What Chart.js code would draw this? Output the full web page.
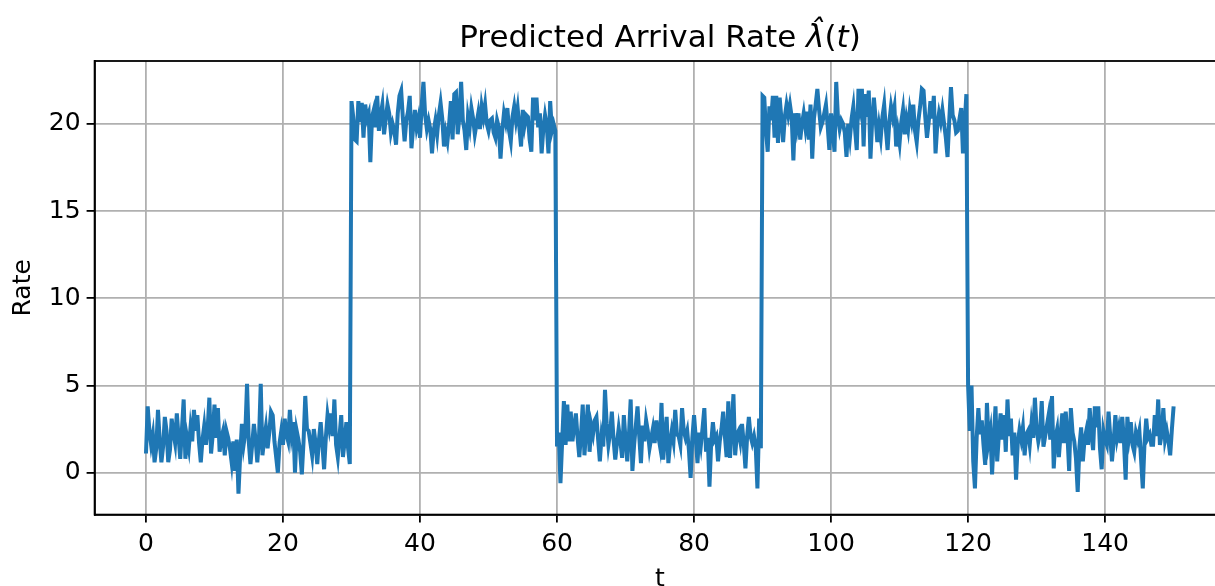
<!DOCTYPE html>
<html>
<head>
<meta charset="utf-8">
<script src="https://cdn.jsdelivr.net/npm/chart.js@4.4.1/dist/chart.umd.min.js"></script>
<style>
  html, body { margin: 0; padding: 0; background: #fff; overflow: hidden; }
  #wrap { position: relative; width: 1215px; height: 586px; overflow: hidden; }
  #title {
    position: absolute; left: 0; top: 18px; width: 1320px; text-align: center;
    font-family: "DejaVu Sans", sans-serif; font-size: 31px; line-height: 37px; color: #000;
  }
  #chart { position: absolute; left: 0; top: 0; }
</style>
</head>
<body>
<div id="wrap">
  <canvas id="chart" width="1240" height="594"></canvas>
  <div id="title">Predicted Arrival Rate <i>λ̂</i>(<i>t</i>)</div>
</div>
<script>
// sampling step of the series (t axis)
const DT = 0.25;

// rate, t = 0 .. 29.75
const rateSeg1 = [
  1.1, 3.8, 2.4, 1.6, 2.2, 0.6, 1.4, 3.6,
  1.9, 0.6, 1.5, 3.2, 2.4, 0.6, 1.3, 3.1,
  2.3, 1.7, 3.4, 2.1, 0.8, 2.5, 4.2, 0.8,
  2.0, 1.4, 2.6, 1.8, 3.6, 2.4, 3.3, 1.7,
  0.6, 1.9, 2.7, 1.6, 2.5, 4.3, 1.1, 2.2,
  3.9, 2.0, 3.7, 1.2, 2.0, 2.4, 1.0, 2.4,
  2.0, 1.4, 0.6, 1.8, 0.1, 1.9, -1.2, 1.0,
  2.8, 1.6, 2.3, 5.1, 1.8, 0.5, 1.6, 2.8,
  1.9, 0.6, 2.0, 5.1, 1.0, 1.9, 2.6, 1.4,
  2.3, 3.5, 3.3, 1.8, 0.9, 0.0, 1.7, 2.4,
  1.6, 3.1, 2.2, 1.8, 3.6, 2.2, 2.9, 0.0,
  2.4, 1.9, 1.2, -0.1, 1.8, 4.4, 2.5, 2.4,
  1.7, 1.0, 2.5, 1.7, 0.5, 1.9, 2.9, 1.6,
  0.2, 2.0, 3.3, 2.6, 3.4, 2.1, 4.2, 1.6,
  0.9, 2.1, 3.3, 0.9, 1.8, 2.9, 1.4, 0.5
];

// t = 30 .. 59.75
const rateSeg2 = [
  21.3, 20.4, 19.1, 19.0, 21.3, 20.1, 21.2, 19.2,
  21.1, 20.3, 20.6, 17.8, 20.4, 20.8, 19.8, 21.6,
  19.6, 20.5, 21.1, 19.4, 20.3, 21.1, 20.6, 19.5,
  20.0, 19.6, 18.8, 20.6, 21.6, 21.9, 20.3, 19.0,
  20.2, 20.7, 21.6, 18.6, 19.8, 20.8, 19.8, 20.3,
  19.2, 21.1, 22.4, 20.5, 19.7, 20.2, 19.7, 18.3,
  19.6, 20.2, 19.4, 20.5, 21.2, 20.3, 18.7, 19.5,
  19.0, 20.0, 21.3, 19.1, 21.7, 21.8, 19.4, 20.4,
  22.4, 20.2, 19.6, 18.5, 20.4, 19.8, 20.9, 20.3,
  19.4, 20.0, 20.6, 19.7, 21.0, 20.4, 21.1, 20.0,
  19.6, 20.2, 20.3, 19.5, 19.2, 20.2, 19.8, 18.0,
  19.6, 20.6, 20.1, 20.9, 19.6, 19.0, 20.4, 21.0,
  20.2, 20.9, 19.8, 18.7, 20.8, 19.9, 20.5, 20.4,
  19.1, 18.4, 21.5, 20.2, 21.5, 19.8, 20.6, 18.3,
  19.7, 20.5, 19.9, 18.3, 21.3, 19.6, 20.0, 19.6
];

// t = 60 .. 89.75
const rateSeg3 = [
  1.5, 2.3, -0.6, 1.8, 4.1, 1.6, 3.9, 1.8,
  3.5, 1.8, 2.6, 3.4, 2.0, 0.9, 2.2, 3.9,
  1.0, 2.5, 3.9, 1.2, 2.7, 2.2, 3.0, 3.2,
  1.9, 0.65, 2.1, 1.5, 4.75, 2.8, 1.6, 2.3,
  3.5, 1.9, 0.75, 1.7, 2.55, 1.8, 0.85, 3.3,
  1.9, 0.65, 2.2, 4.2, 0.1, 1.6, 2.7, 3.8,
  2.1, 0.55, 2.7, 1.8, 3.0, 2.4, 1.4, 2.0,
  2.55, 1.7, 3.0, 2.2, 1.6, 4.0, 0.75, 2.1,
  3.2, 0.55, 1.7, 2.4, 1.8, 3.6, 2.2, 2.1,
  1.6, 3.7, 2.4, 2.0, 2.4, 1.3, -0.3, 2.0,
  3.3, 2.0, 0.55, 2.3, 1.6, 2.6, 3.7, 1.2,
  2.0, -0.8, 1.7, 2.9, 1.9, 2.1, 0.65, 1.8,
  2.5, 3.5, 2.1, 0.9, 4.1, 0.85, 2.6, 4.5,
  1.0, 2.2, 2.4, 1.8, 2.8, 1.7, 0.25, 2.1,
  3.2, 2.1, 1.7, 2.1, 1.5, -0.9, 3.1, 1.4
];

// t = 90 .. 119.75
const rateSeg4 = [
  21.6, 21.5, 19.6, 18.4, 21.0, 20.2, 21.6, 19.2,
  21.6, 18.9, 21.5, 20.3, 18.95, 20.4, 21.1, 20.5,
  21.1, 20.4, 17.9, 20.6, 19.8, 20.6, 19.1, 20.0,
  20.6, 19.8, 20.7, 19.1, 21.1, 18.0, 20.3, 21.1,
  22.0, 20.8, 19.8, 20.1, 20.6, 21.1, 19.9, 18.5,
  20.6, 19.6, 18.4, 22.4, 20.4, 19.7, 20.2, 20.0,
  19.5, 18.1, 20.0, 19.2, 20.3, 21.0, 19.7, 18.5,
  22.0, 21.1, 22.0, 18.7, 21.7, 20.4, 21.9, 18.0,
  20.2, 21.5, 20.3, 18.95, 19.9, 19.2, 20.4, 21.1,
  19.7, 18.5, 20.1, 21.0, 20.4, 20.95, 18.7, 19.6,
  18.9, 20.1, 20.8, 19.4, 20.3, 19.7, 20.8, 20.2,
  21.1, 19.6, 18.95, 20.2, 21.0, 22.0, 21.9, 20.4,
  19.2, 20.1, 21.3, 20.3, 21.6, 18.3, 19.9, 20.6,
  20.1, 20.8, 20.0, 19.2, 18.1, 20.2, 22.1, 20.5,
  20.2, 19.5, 19.6, 20.3, 20.9, 18.3, 20.0, 21.7
];

// t = 120 .. 150
const rateSeg5 = [
  5.0, 2.4, 5.0, 0.65, -0.9, 2.0, 3.7, 2.2,
  3.0, 1.6, 0.45, 4.0, 1.8, 2.4, -0.1, 2.0,
  3.8, 0.65, 2.2, 3.4, 1.9, 3.3, 1.2, 4.2,
  2.1, 3.1, 1.0, 2.3, -0.4, 1.7, 2.45, 1.9,
  2.6, 1.0, 2.2, 2.4, 1.6, 2.8, 2.0, 4.3,
  2.5, 1.8, 2.3, 4.1, 1.5, 2.1, 2.7, 3.3,
  1.9, 4.4, 0.25, 2.0, 2.5, 0.9, 2.2, 3.4,
  1.7, 3.5, 2.2, 0.1, 3.7, 2.3, 1.8, 0.8,
  -1.1, 1.5, 2.6, 0.65, 1.9, 2.4, 1.6, 3.7,
  2.2, 1.3, 3.8, 2.6, 3.8, 1.4, 0.2, 2.4,
  1.9, 1.6, 3.5, 2.1, 0.65, 1.8, 3.3, 2.0,
  2.55, 1.7, 3.2, 1.8, -0.4, 3.2, 2.1, 2.9,
  1.6, 1.2, 2.3, 1.9, 2.4, 0.75, -0.9, 1.7,
  3.1, 2.0, 2.2, 1.6, 1.6, 3.3, 2.1, 4.2,
  1.6, 2.2, 3.7, 1.9, 2.4, 1.8, 1.0, 2.5,
  3.8
];

const xTickValues = [0, 20, 40, 60, 80, 100, 120, 140];
const yTickValues = [0, 5, 10, 15, 20];

const rates = [].concat(rateSeg1, rateSeg2, rateSeg3, rateSeg4, rateSeg5);
const points = rates.map((v, i) => ({ x: i * DT, y: v }));

const FONT = "'DejaVu Sans', sans-serif";

// top/right spines like matplotlib
const frame = {
    id: 'frame',
    afterDatasetsDraw(chart) {
        const { ctx, chartArea: a } = chart;
        ctx.save();
        ctx.strokeStyle = '#000';
        ctx.lineWidth = 1.8;
        ctx.strokeRect(a.left, a.top, a.right - a.left, a.bottom - a.top);
        ctx.restore();
    }
};

new Chart(document.getElementById('chart'), {
    type: 'line',
    data: {
        datasets: [{
            data: points,
            borderColor: '#1f77b4',
            borderWidth: 4,
            pointRadius: 0,
            tension: 0,
            fill: false
        }]
    },
    options: {
        responsive: false,
        animation: false,
        devicePixelRatio: 1,
        layout: { padding: { left: 8, right: 15, top: 61, bottom: 0 } },
        plugins: {
            legend: { display: false },
            tooltip: { enabled: false }
        },
        scales: {
            x: {
                type: 'linear',
                min: -7.5,
                max: 157.5,
                afterBuildTicks: (s) => { s.ticks = xTickValues.map(v => ({ value: v })); },
                afterFit: (s) => { s.height = 79.4; },
                grid: { color: '#b0b0b0', lineWidth: 1.8, tickColor: '#000', tickLength: 8, tickWidth: 1.8 },
                border: { color: '#000', width: 1.8 },
                ticks: { color: '#000', padding: 7, maxRotation: 0, font: { family: FONT, size: 25 } },
                title: { display: true, text: 't', color: '#000', padding: 0, font: { family: FONT, size: 25 } }
            },
            y: {
                min: -2.4,
                max: 23.6,
                afterBuildTicks: (s) => { s.ticks = yTickValues.map(v => ({ value: v })); },
                afterFit: (s) => { s.width = 86.6; },
                grid: { color: '#b0b0b0', lineWidth: 1.8, tickColor: '#000', tickLength: 8, tickWidth: 1.8 },
                border: { color: '#000', width: 1.8 },
                ticks: { color: '#000', padding: 6, font: { family: FONT, size: 25 } },
                title: { display: true, text: 'Rate', color: '#000', padding: 0, font: { family: FONT, size: 25 } }
            }
        }
    },
    plugins: [frame]
});
</script>
</body>
</html>
